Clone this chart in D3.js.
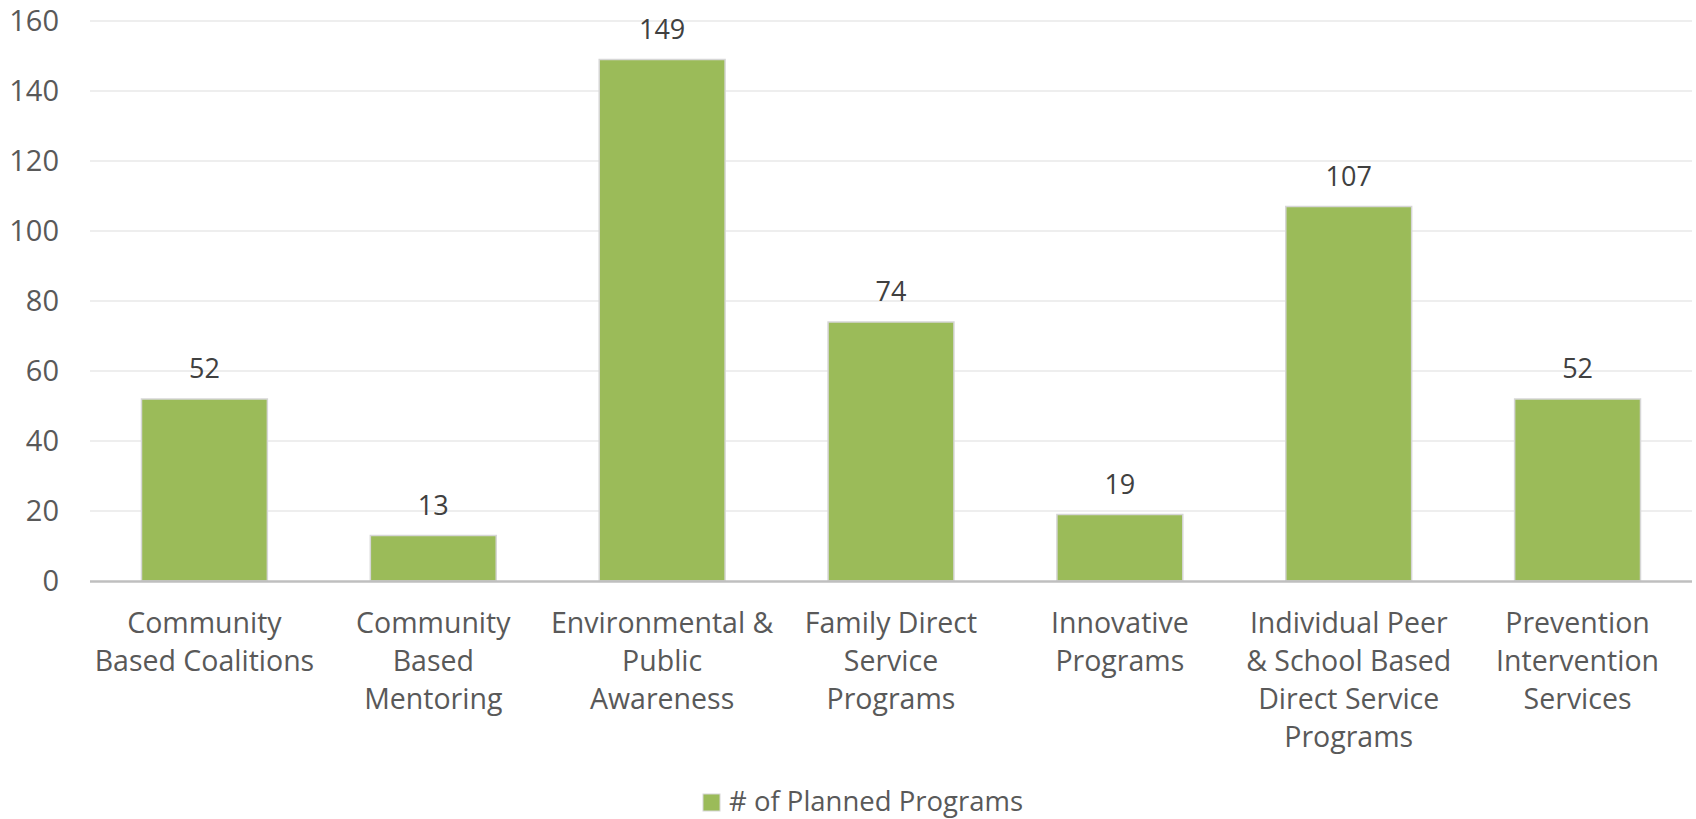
<!DOCTYPE html>
<html>
<head>
<meta charset="utf-8">
<script src="https://cdn.jsdelivr.net/npm/d3@7"></script>
<style>
  body { margin: 0; background: #fff; }
  text { font-family: "Open Sans", sans-serif; }
</style>
</head>
<body>
<svg id="drawing_region"></svg>
<script>
// chart values
const categories = [
    "Community\nBased Coalitions",
    "Community\nBased\nMentoring",
    "Environmental &\nPublic\nAwareness",
    "Family Direct\nService\nPrograms",
    "Innovative\nPrograms",
    "Individual Peer\n& School Based\nDirect Service\nPrograms",
    "Prevention\nIntervention\nServices"
];
const plannedPrograms = [52, 13, 149, 74, 19, 107, 52];
const yTicks = [0, 20, 40, 60, 80, 100, 120, 140, 160];
const seriesName = "# of Planned Programs";

class BarChart {

    constructor( config, cats, values ) {
        this.config = config;
        this.cats = cats;
        this.values = values;
        this.init();
    }

    init() {
        let self = this;
        const c = self.config;

        self.svg = d3.select( c.parent )
            .attr('width', c.width)
            .attr('height', c.height);

        self.inner_width = c.width - c.margin.left - c.margin.right;
        self.inner_height = c.height - c.margin.top - c.margin.bottom;

        self.chart = self.svg.append('g')
            .attr('transform', `translate(${c.margin.left}, ${c.margin.top})`);

        self.xscale = d3.scaleBand()
            .domain( self.cats )
            .range( [0, self.inner_width] )
            .paddingInner( 0.45 )
            .paddingOuter( 0.225 );

        self.yscale = d3.scaleLinear()
            .domain( [0, 160] )
            .range( [self.inner_height, 0] );
    }

    render() {
        let self = this;
        const data = self.cats.map( (c, i) => ({ cat: c, value: self.values[i] }) );

        // gridlines
        self.chart.selectAll('.grid')
            .data( yTicks.filter(t => t > 0) )
            .enter()
            .append('line')
            .attr('x1', 0)
            .attr('x2', self.inner_width)
            .attr('y1', d => self.yscale(d))
            .attr('y2', d => self.yscale(d))
            .attr('stroke', '#eeeeee')
            .attr('stroke-width', 2);

        // y tick labels
        const yaxis = d3.axisLeft( self.yscale )
            .tickValues( yTicks )
            .tickSize( 0 )
            .tickPadding( 31 );
        const yg = self.chart.append('g').call( yaxis );
        yg.select('.domain').remove();
        yg.selectAll('text')
            .attr('font-family', '"Open Sans", sans-serif')
            .attr('font-size', '29px')
            .attr('fill', '#595959');

        // bars
        self.chart.selectAll('.bar')
            .data( data )
            .enter()
            .append('rect')
            .attr('x', d => self.xscale(d.cat))
            .attr('y', d => self.yscale(d.value))
            .attr('width', self.xscale.bandwidth())
            .attr('height', d => self.inner_height - self.yscale(d.value))
            .attr('fill', '#9bbb59')
            .attr('stroke', '#d6d6d6')
            .attr('stroke-width', 1.5);

        // data labels
        self.chart.selectAll('.label')
            .data( data )
            .enter()
            .append('text')
            .attr('x', d => self.xscale(d.cat) + self.xscale.bandwidth() / 2)
            .attr('y', d => self.yscale(d.value) - 21)
            .attr('text-anchor', 'middle')
            .attr('font-size', '27px')
            .attr('fill', '#404040')
            .text( d => d.value );

        // x axis line
        self.chart.append('line')
            .attr('x1', 0)
            .attr('x2', self.inner_width)
            .attr('y1', self.inner_height + 0.5)
            .attr('y2', self.inner_height + 0.5)
            .attr('stroke', '#bfbfbf')
            .attr('stroke-width', 2.5);

        // category labels
        const xaxis = d3.axisBottom( self.xscale ).tickSize( 0 ).tickFormat( '' );
        const xg = self.chart.append('g')
            .attr('transform', `translate(0, ${self.inner_height})`)
            .call( xaxis );
        xg.select('.domain').remove();
        xg.selectAll('.tick')
            .append('text')
            .attr('text-anchor', 'middle')
            .attr('font-size', '28.5px')
            .attr('fill', '#595959')
            .selectAll('tspan')
            .data( d => d.split('\n') )
            .enter()
            .append('tspan')
            .attr('x', 0)
            .attr('y', (d, i) => 52 + i * 38)
            .text( d => d );

        // legend
        const legend = self.svg.append('g')
            .attr('transform', `translate(${self.config.width / 2}, 802)`);
        legend.append('text')
            .attr('x', -119)
            .attr('y', 9)
            .attr('font-size', '27.5px')
            .attr('fill', '#595959')
            .text( seriesName );
        legend.append('rect')
            .attr('x', -145)
            .attr('y', -8)
            .attr('width', 17)
            .attr('height', 17)
            .attr('fill', '#9bbb59')
            .attr('stroke', '#d6d6d6')
            .attr('stroke-width', 1);
    }
}

const config = {
    parent: '#drawing_region',
    width: 1696,
    height: 819,
    margin: {top:21, right:4, bottom:238, left:90}
};

const bar_chart = new BarChart( config, categories, plannedPrograms );
bar_chart.render();
</script>
</body>
</html>
